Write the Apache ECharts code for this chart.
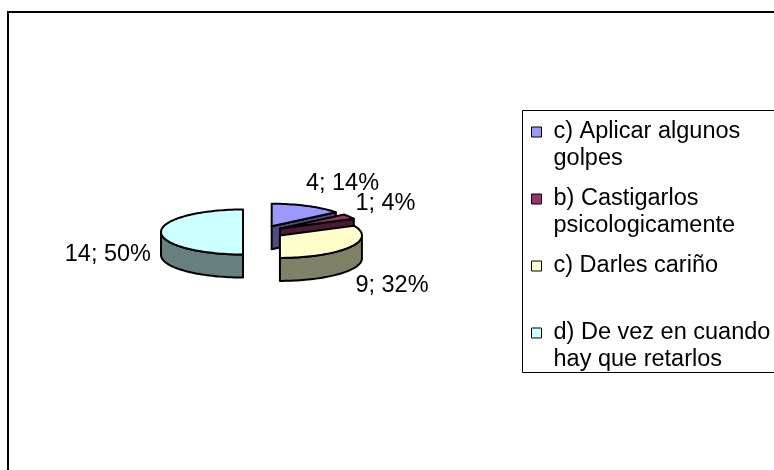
<!DOCTYPE html>
<html>
<head>
<meta charset="UTF-8">
<title>Pie 3D</title>
<script src="https://cdn.jsdelivr.net/npm/echarts@6/dist/echarts.min.js"></script>
</head>
<body style="margin:0;background:#fff">
<div id="main" style="width:774px;height:470px"></div>
<script>
var categories = ['c) Aplicar algunos\ngolpes', 'b) Castigarlos\npsicologicamente', 'c) Darles cariño\n ', 'd) De vez en cuando\nhay que retarlos'];
var values = [4, 1, 9, 14];
var colors = ['#9999FF', '#993366', '#FFFFCC', '#CCFFFF'];
var sideColors = ['#4D4D80', '#4D1A33', '#808066', '#668080'];

var total = values.reduce(function (a, b) { return a + b; }, 0);
// pie layout (pixels)
var CX = 263, CY = 232, RX = 82, RY = 22.5, DEPTH = 23, EXPL = 20, KY = 0.32;
var FONT = '"Liberation Sans", Arial, sans-serif';
var FS = 23.5;

function rad(d) { return d * Math.PI / 180; }
function rim(cx, cy, a, dy) {
    return [cx + RX * Math.sin(rad(a)), cy - RY * Math.cos(rad(a)) + (dy || 0)];
}
function arc(cx, cy, a0, a1, dy) {
    var pts = [];
    var n = Math.max(2, Math.ceil((a1 - a0) / 2));
    for (var i = 0; i <= n; i++) pts.push(rim(cx, cy, a0 + (a1 - a0) * i / n, dy));
    return pts;
}

function renderSlice(params, api) {
    var idx = params.seriesIndex;
    var before = 0;
    for (var i = 0; i < idx; i++) before += values[i];
    var v = api.value(0);
    var a0 = before / total * 360, a1 = (before + v) / total * 360, mid = (a0 + a1) / 2;
    var cx = CX + EXPL * Math.sin(rad(mid)), cy = CY - EXPL * KY * Math.cos(rad(mid));
    var children = [];
    function poly(points, fill) {
        children.push({
            type: 'polygon', shape: { points: points },
            style: { fill: fill, stroke: '#000', lineWidth: 2, lineJoin: 'round' }
        });
    }
    // cut faces that look at us
    if (Math.sin(rad(a0)) < -1e-6) {
        var p = rim(cx, cy, a0);
        poly([[cx, cy], p, [p[0], p[1] + DEPTH], [cx, cy + DEPTH]], sideColors[idx]);
    }
    if (Math.sin(rad(a1)) > 1e-6) {
        var q = rim(cx, cy, a1);
        poly([[cx, cy], q, [q[0], q[1] + DEPTH], [cx, cy + DEPTH]], sideColors[idx]);
    }
    // outer wall, front half only
    var w0 = Math.max(a0, 90), w1 = Math.min(a1, 270);
    if (w1 > w0) {
        poly(arc(cx, cy, w0, w1).concat(arc(cx, cy, w0, w1, DEPTH).reverse()), sideColors[idx]);
    }
    // top face
    poly([[cx, cy]].concat(arc(cx, cy, a0, a1)), colors[idx]);

    // label "n; p%"
    var s = Math.sin(rad(mid)), c = Math.cos(rad(mid));
    var r = rim(cx, cy, mid);
    var pct = Math.round(v / total * 100);
    var sg = s >= 0 ? 1 : -1;
    children.push({
        type: 'text',
        style: {
            text: v + '; ' + pct + '%',
            x: r[0] + sg * (-4 + 14 * s * s),
            y: r[1] + (c > 1e-6 ? -25 * c : DEPTH - 29 * c),
            fill: '#000', fontSize: FS, fontFamily: FONT,
            align: s >= 0 ? 'left' : 'right', verticalAlign: 'middle'
        }
    });
    return { type: 'group', children: children };
}

var chart = echarts.init(document.getElementById('main'));
chart.setOption({
    backgroundColor: '#fff',
    animation: false,
    graphic: [
        { type: 'rect', shape: { x: 8, y: 12, width: 900, height: 600 },
          style: { fill: 'none', stroke: '#000', lineWidth: 2 } },
        { type: 'rect', shape: { x: 522.5, y: 110.5, width: 400, height: 262 },
          style: { fill: 'none', stroke: '#000', lineWidth: 1 } }
    ],
    legend: {
        orient: 'vertical',
        left: 531, top: 118,
        padding: 0,
        // square sits on the first text line of each two-line item
        icon: 'path://M0,0M10,54M0,8.5h10v10h-10z',
        itemWidth: 10, itemHeight: 54,
        itemGap: 12,
        selectedMode: false,
        itemStyle: { borderColor: '#000', borderWidth: 1 },
        textStyle: { fontSize: FS, lineHeight: 27, fontFamily: FONT, color: '#000', padding: [0, 0, 0, 7] },
        data: categories
    },
    series: categories.map(function (name, i) {
        return {
            type: 'custom',
            name: name,
            coordinateSystem: 'none',
            silent: true,
            itemStyle: { color: colors[i] },
            data: [[values[i]]],
            renderItem: renderSlice
        };
    })
});
</script>
</body>
</html>
